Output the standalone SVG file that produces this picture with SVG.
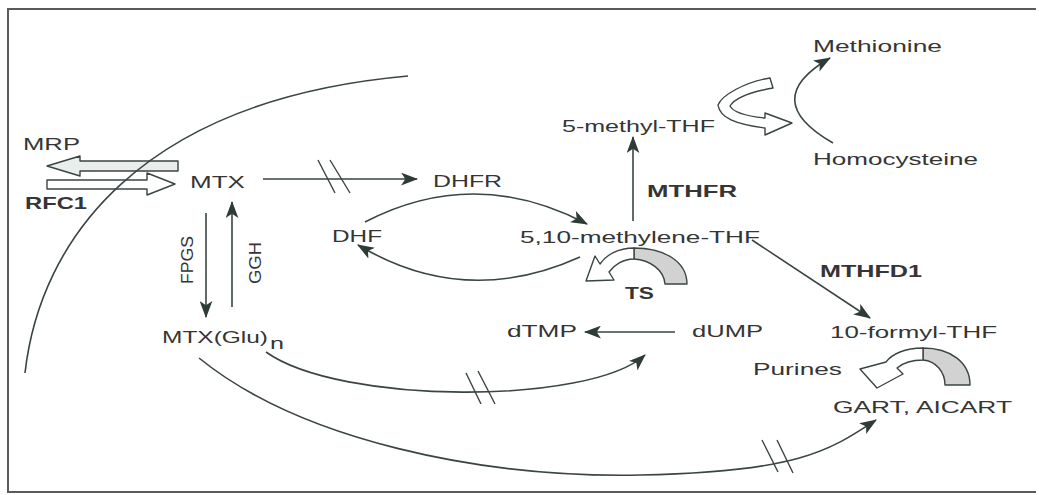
<svg xmlns="http://www.w3.org/2000/svg" width="1039" height="495" viewBox="0 0 1039 495">
<defs>
<style>
text{font-family:"Liberation Sans",Arial,sans-serif;font-size:16.5px;fill:#353535;}
.b{font-weight:bold;}
.ln{fill:none;stroke:#3a4541;stroke-width:1.6;}
.sl{fill:none;stroke:#3a4541;stroke-width:1.4;}
.ha{fill:#ffffff;stroke:#3a4541;stroke-width:1.4;stroke-linejoin:round;}
.hg{fill:#d2d2d2;stroke:#3a4541;stroke-width:1.4;stroke-linejoin:round;}
.hm{fill:#e9edeb;stroke:#3a4541;stroke-width:1.4;stroke-linejoin:round;}
</style>
<marker id="ah" viewBox="0 0 16 12" refX="15" refY="6" markerWidth="17" markerHeight="13" markerUnits="userSpaceOnUse" orient="auto">
<path d="M0,0 L16,6 L0,12 L4,6 z" fill="#2e3b37"/>
</marker>
</defs>
<rect x="0" y="0" width="1039" height="495" fill="#ffffff"/>
<g id="frame" fill="none" stroke="#5a5a5a" stroke-width="2">
<path d="M1036 9 L8 9 L8 492 L1036 492"/>
</g>
<g id="transporters">
<path class="hm" d="M178 161 L80 161 L80 156 L47 166 L80 176 L80 171 L178 171 Z"/>
<path class="ha" d="M47 180 L147 180 L147 173 L175 184 L147 195 L147 189 L47 189 Z"/>
</g>
<g id="membrane">
<path class="ln" d="M25 373 C40 240, 140 100, 408 76"/>
</g>
<g id="connectors">
<path class="ln" d="M263 179 L417 179" marker-end="url(#ah)"/>
<path class="sl" d="M318 160 L335 193 M330 160 L350 193"/>
<path class="ln" d="M365 222 Q475 165 587 224" marker-end="url(#ah)"/>
<path class="ln" d="M580 257 Q465 309 358 245" marker-end="url(#ah)"/>
<path class="ln" d="M633 221 L633 137" marker-end="url(#ah)"/>
<path class="ln" d="M752 240 L870 318" marker-end="url(#ah)"/>
<path class="ln" d="M833 143 Q758 100 830 58" marker-end="url(#ah)"/>
<path class="ln" d="M206 213 L206 317" marker-end="url(#ah)"/>
<path class="ln" d="M232 307 L232 202" marker-end="url(#ah)"/>
<path class="ln" d="M675 332 L585 332" marker-end="url(#ah)"/>
<path class="ln" d="M266 352 C340 405, 590 405, 645 355" marker-end="url(#ah)"/>
<path class="sl" d="M466 373 L481 404 M478 371 L495 404"/>
<path class="ln" d="M199 358 C300 440, 480 478, 640 475 S830 450, 876 420" marker-end="url(#ah)"/>
<path class="sl" d="M762 440 L778 472 M777 440 L793 473"/>
</g>
<g id="methyl-transfer">
<path class="ha" d="M770 78 C745 82, 722 95, 718 105 C720 118, 735 124, 765 128 L765 135 L792 123 L765 113 L765 118 C745 116, 733 112, 730 106 C735 98, 750 92, 773 88 Z"/>
</g>
<g id="ts-arrow">
<path class="hg" d="M687 284 C687 262, 665 248, 634 248 L634 259 C650 260, 664 270, 665 284 Z"/>
<path class="ha" d="M634 248 C618 248, 606 255, 600 264 L595 256 L586 281 L614 280 L609 272 C614 265, 623 259, 634 259 Z"/>
</g>
<g id="purine-arrow">
<path class="hg" d="M970 385 C970 362, 950 348, 923 348 L923 360 C936 361, 945 372, 945 385 Z"/>
<path class="ha" d="M923 348 C905 348, 892 354, 886 362 L860 369 L877 388 L903 374 L897 368 C903 363, 912 360, 923 360 Z"/>
</g>
<g id="n-mrp"><text x="23" y="150" textLength="57" lengthAdjust="spacingAndGlyphs">MRP</text></g>
<g id="n-rfc1"><text class="b" x="25" y="209" textLength="62" lengthAdjust="spacingAndGlyphs">RFC1</text></g>
<g id="n-mtx"><text x="190" y="188" textLength="55" lengthAdjust="spacingAndGlyphs">MTX</text></g>
<g id="n-dhfr"><text x="433" y="187" textLength="69" lengthAdjust="spacingAndGlyphs">DHFR</text></g>
<g id="n-dhf"><text x="332" y="242" textLength="50" lengthAdjust="spacingAndGlyphs">DHF</text></g>
<g id="n-methylene"><text x="520" y="243" textLength="240" lengthAdjust="spacingAndGlyphs">5,10-methylene-THF</text></g>
<g id="n-methylthf"><text x="562" y="132" textLength="153" lengthAdjust="spacingAndGlyphs">5-methyl-THF</text></g>
<g id="n-methionine"><text x="813" y="52" textLength="129" lengthAdjust="spacingAndGlyphs">Methionine</text></g>
<g id="n-homocysteine"><text x="813" y="165" textLength="165" lengthAdjust="spacingAndGlyphs">Homocysteine</text></g>
<g id="n-mthfr"><text class="b" x="647" y="197" textLength="90" lengthAdjust="spacingAndGlyphs">MTHFR</text></g>
<g id="n-mthfd1"><text class="b" x="820" y="277" textLength="102" lengthAdjust="spacingAndGlyphs">MTHFD1</text></g>
<g id="n-ts"><text class="b" x="625" y="299" textLength="29" lengthAdjust="spacingAndGlyphs">TS</text></g>
<g id="n-dtmp"><text x="507" y="337" textLength="70" lengthAdjust="spacingAndGlyphs">dTMP</text></g>
<g id="n-dump"><text x="692" y="337" textLength="71" lengthAdjust="spacingAndGlyphs">dUMP</text></g>
<g id="n-formyl"><text x="830" y="338" textLength="167" lengthAdjust="spacingAndGlyphs">10-formyl-THF</text></g>
<g id="n-purines"><text x="753" y="375" textLength="89" lengthAdjust="spacingAndGlyphs">Purines</text></g>
<g id="n-gart"><text x="833" y="413" textLength="179" lengthAdjust="spacingAndGlyphs">GART, AICART</text></g>
<g id="n-mtxglu"><text x="162" y="343" textLength="106" lengthAdjust="spacingAndGlyphs">MTX(Glu)</text><text x="270" y="349" textLength="14" lengthAdjust="spacingAndGlyphs">n</text></g>
<g id="n-fpgs"><text transform="translate(193,284) rotate(-90)" x="0" y="0" font-size="17" textLength="48" lengthAdjust="spacingAndGlyphs">FPGS</text></g>
<g id="n-ggh"><text transform="translate(261,284) rotate(-90)" x="0" y="0" font-size="17" textLength="42" lengthAdjust="spacingAndGlyphs">GGH</text></g>
</svg>
